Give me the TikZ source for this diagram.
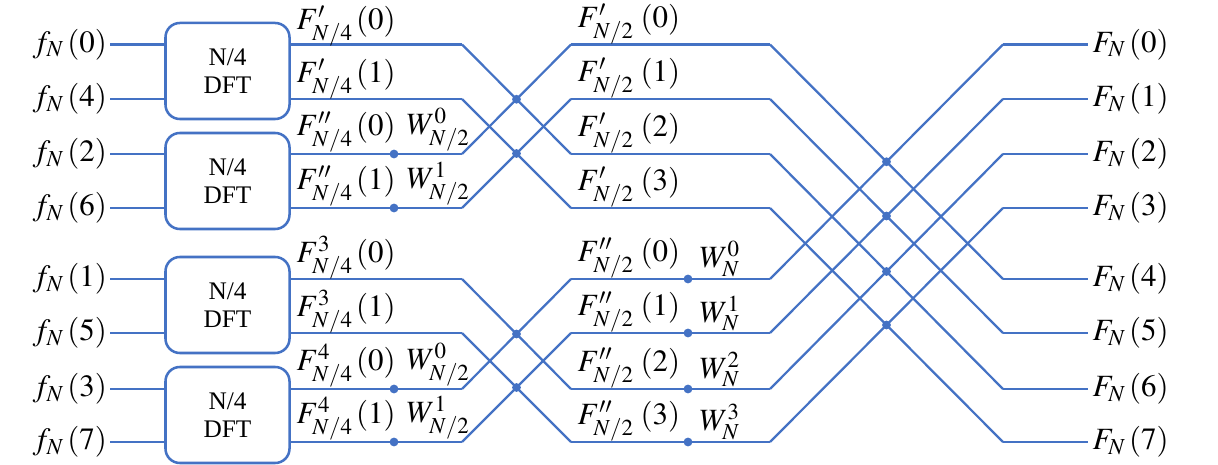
\documentclass[tikz,border=0pt]{standalone}
\usepackage{mathptmx}
\usepackage{fontspec}
\setmainfont{Liberation Serif}
\definecolor{fftblue}{RGB}{68,114,196}
\usetikzlibrary{calc}
\usetikzlibrary{positioning}
\tikzset{
  wire/.style={draw=fftblue, line width=1.6pt},
  dftbox/.style={draw=fftblue, line width=1.8pt, rounded corners=0.36cm,
    minimum width=3.1cm, minimum height=2.4cm, align=center,
    font=\fontsize{18}{20}\selectfont},
  dot/.style={circle, fill=fftblue, inner sep=0pt, minimum size=0.22cm},
  lbl/.style={inner sep=1pt, anchor=south west}
}
\begin{document}
\begin{tikzpicture}[x=0.025cm, y=-0.025cm, font=\fontsize{22}{25}\selectfont]
  \useasboundingbox (0,0) rectangle (1218,465);

  % rows: index / y / input sample
  \foreach \r/\y/\k in {0/44.5/0, 1/99/4, 2/154/2, 3/208/6, 4/279/1, 5/333/5, 6/389/3, 7/442/7} {
    \node [anchor=east, inner sep=2pt] (in\r) at (110,\y) {$f_{N}\,(\k)$};
    \coordinate (w\r) at (394,\y);
    \coordinate (b\r) at (462,\y);
    \coordinate (c\r) at (571,\y);
    \coordinate (v\r) at (688,\y);
    \coordinate (d\r) at (770,\y);
    \coordinate (e\r) at (1003,\y);
    \node [anchor=west, inner sep=3pt] (out\r) at (1088,\y) {$F_{N}\,(\r)$};
  }

  % N/4 DFT blocks
  \foreach \n/\y in {1/71, 2/181, 3/305, 4/415}
    \node [dftbox] (dft\n) at (227.5,\y) {N/4\\DFT};

  % into and out of the blocks
  \foreach \r/\n in {0/1, 1/1, 2/2, 3/2, 4/3, 5/3, 6/4, 7/4} {
    \draw [wire] (in\r.east) -- (in\r.east -| dft\n.west);
    \draw [wire] (dft\n.east |- b\r) -- (b\r);
  }

  % first butterflies
  \foreach \r/\s in {0/2, 1/3, 2/0, 3/1, 4/6, 5/7, 6/4, 7/5}
    \draw [wire] (b\r) -- (c\s);
  \foreach \r in {0,...,7}
    \draw [wire] (c\r) -- (d\r);
  % second butterflies
  \foreach \r/\s in {0/4, 1/5, 2/6, 3/7, 4/0, 5/1, 6/2, 7/3}
    \draw [wire] (d\r) -- (e\s);
  \foreach \r in {0,...,7}
    \draw [wire] (e\r) -- (out\r.west);

  % dots
  \foreach \r/\s in {0/2, 1/3, 4/6, 5/7}
    \node [dot] (x\r) at ($(b\r)!0.5!(c\s)$) {};
  \foreach \r/\s in {0/4, 1/5, 2/6, 3/7}
    \node [dot] (y\r) at ($(d\r)!0.5!(e\s)$) {};
  \foreach \r in {2,3,6,7}
    \node [dot] (tw\r) at (w\r) {};
  \foreach \r in {4,...,7}
    \node [dot] (tv\r) at (v\r) {};

  % labels after the blocks
  \node [lbl] (lab0) at (295,48) {$F'_{N/4}\,(0)$};
  \node [lbl] (lab1) at (295,101) {$F'_{N/4}\,(1)$};
  \node [lbl] (lab2) at (295,154) {$F''_{N/4}\,(0)$};
  \node [lbl] (lab3) at (295,208) {$F''_{N/4}\,(1)$};
  \node [lbl] (lab4) at (295,281) {$F^{3}_{N/4}\,(0)$};
  \node [lbl] (lab5) at (295,335) {$F^{3}_{N/4}\,(1)$};
  \node [lbl] (lab6) at (295,389) {$F^{4}_{N/4}\,(0)$};
  \node [lbl] (lab7) at (295,442) {$F^{4}_{N/4}\,(1)$};
  \foreach \r/\k in {2/0, 3/1, 6/0, 7/1}
    \node [lbl] (wl\r) at ($(w\r)+(11,-1)$) {$W^{\k}_{N/2}$};

  % middle labels
  \foreach \r in {0,...,3}
    \node [lbl] (mid\r) at ($(c\r)+(5,1)$) {$F'_{N/2}\;(\r)$};
  \foreach \r/\k in {4/0, 5/1, 6/2, 7/3} {
    \node [lbl] (mid\r) at ($(c\r)+(5,1)$) {$F''_{N/2}\;(\k)$};
    \node [lbl] (vl\r) at ($(v\r)+(10,0)$) {$W^{\k}_{N}$};
  }
\end{tikzpicture}
\end{document}
